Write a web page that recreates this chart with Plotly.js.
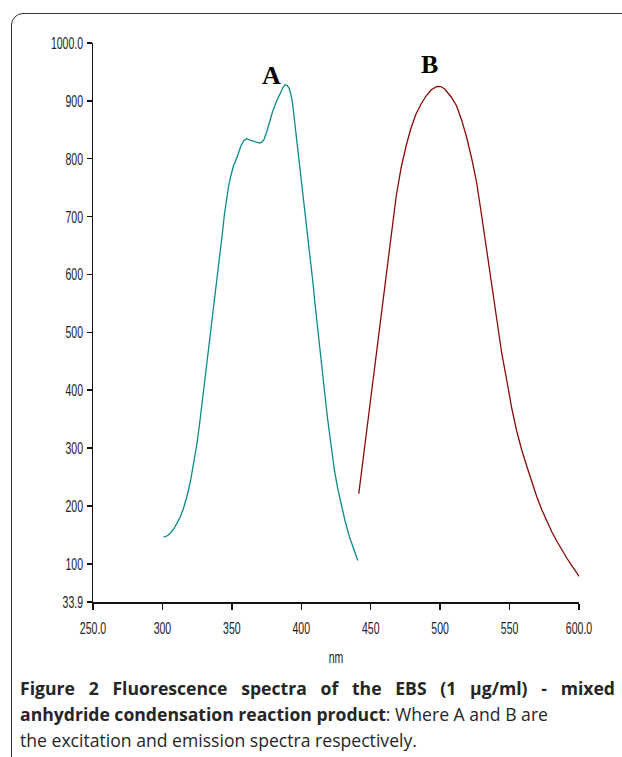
<!DOCTYPE html>
<html>
<head>
<meta charset="utf-8">
<script src="https://cdn.plot.ly/plotly-3.0.1.min.js"></script>
<style>
  html, body { margin: 0; padding: 0; background: #fff; }
  #wrap { position: relative; width: 622px; height: 757px; overflow: hidden; }
  #frame { position: absolute; left: 11px; top: 13px; width: 700px; height: 800px;
           border: 1.5px solid #333; border-radius: 12px; box-sizing: border-box; }
  #plot { position: absolute; left: 0; top: 0; width: 622px; height: 757px; }
  #caption { position: absolute; left: 20px; top: 675px; width: 595px;
             font-family: "Open Sans", sans-serif; font-size: 17.6px; line-height: 26px;
             color: #262626; white-space: nowrap; }
  #caption .l1 { text-align: justify; text-align-last: justify; width: 595px; white-space: normal; }
</style>
</head>
<body>
<div id="wrap">
  <div id="frame"></div>
  <div id="plot"></div>
  <div id="caption"><div class="l1"><b>Figure 2 Fluorescence spectra of the EBS (1 μg/ml) - mixed</b></div><div><b>anhydride condensation reaction product</b>: Where A and B are</div><div>the excitation and emission spectra respectively.</div></div>
</div>
<script>
// Excitation spectrum (A): wavelength (nm) and intensity
const wavelengthA = [300.8,303.5,305.7,308.2,310.5,312.9,315.3,317.6,320.1,322.3,324.5,326.6,328.8,331,333.2,335.3,337.5,339.7,341.8,343.3,344.7,346.2,347.6,349.1,351.2,353.9,356.3,358.5,360.6,363.5,365.9,367.9,370,371.5,373.1,375.1,376.8,379.1,381.6,383.8,385.2,386.9,388.3,389.9,391.2,392.4,393.7,394.6,395.3,396.8,398.4,399.9,401.3,402.7,404,405.5,406.9,408.4,409.8,411.2,412.9,414.1,415.4,416.7,417.8,419.2,420.9,422.3,423.8,426.1,428.6,431.5,434.6,437.6,440.7];
const intensityA = [146.1,148.4,152.7,160.5,170.3,181.2,196.8,215.8,241.7,271.1,302.2,338.5,381.7,424.9,468.1,511.3,554.5,597.8,641,673.8,704.9,730.8,751.6,768.9,787.9,803.4,820.7,831.1,834.5,831.9,829.9,827.6,827.1,828.5,832.8,846.6,861.7,879.5,896.2,908.8,916.3,923.5,927.9,926.5,922.2,912.3,896.2,877.7,855.8,827.6,798.2,768.9,740.7,711.8,683,651.3,618.5,585.7,551.1,518.3,483.7,456,428.4,399,374.8,345.4,314.3,286.7,262.5,231.4,204.9,174.3,147.2,125.1,105.7];
// Emission spectrum (B)
const wavelengthB = [441.4,446.7,450.3,453.9,457.5,461.1,464.7,468.3,471.9,475.5,479.1,482.7,486.4,490,493.6,497.8,500.5,503.3,508.1,511.8,515.4,519,522.6,526.2,529.8,533.4,537.1,540.7,544.3,547.9,551.5,555.1,558.7,562.4,566,569.6,573.2,576.8,580.4,584.1,587.7,591.3,594.9,598.5,600.9];
const intensityB = [221,321.2,390.4,461.2,532,602.9,670.3,734.3,784.4,822.4,853.5,877.7,895,908.8,919.2,924.9,924.7,920.4,906.3,891.6,867.4,838,801.7,760.2,703.2,642.7,582.2,520,464.7,418,369.6,329.9,297,268.5,241.7,215.8,193.3,173.5,155.3,138.9,123.3,109.5,96.5,84.4,75.3];

const xTickVals = [250,300,350,400,450,500,550,600];
const xTickText = ["250.0","300","350","400","450","500","550","600.0"];
const yTickVals = [33.9,100,200,300,400,500,600,700,800,900,1000];
const yTickText = ["33.9","100","200","300","400","500","600","700","800","900","1000.0"];
const seriesLabels = ["A","B"];
const labelPosX = [378.7, 492.2];
const labelPosY = [943, 962];

const tickFont = {family: '"Liberation Sans", Arial, sans-serif', size: 17, color: '#222'};

const traces = [
  {x: wavelengthA, y: intensityA, mode: 'lines', line: {color: '#0a8a8a', width: 1.3}, name: 'A'},
  {x: wavelengthB, y: intensityB, mode: 'lines', line: {color: '#8b0a0a', width: 1.3}, name: 'B'}
];

const layout = {
  width: 622, height: 757,
  margin: {l: 93, r: 43.3, t: 43.3, b: 155},
  paper_bgcolor: 'rgba(0,0,0,0)',
  plot_bgcolor: 'rgba(0,0,0,0)',
  showlegend: false,
  xaxis: {
    range: [250, 600], showgrid: false, zeroline: false,
    showline: true, linecolor: '#111', linewidth: 1.5,
    ticks: 'outside', ticklen: 6, tickwidth: 1.5, tickcolor: '#111',
    ticklabelstandoff: 4,
    tickvals: xTickVals, ticktext: xTickText, tickfont: tickFont,
    title: {text: 'nm', font: {family: tickFont.family, size: 17, color: '#222'}, standoff: 14}
  },
  yaxis: {
    range: [33.9, 1000], showgrid: false, zeroline: false,
    showline: true, linecolor: '#111', linewidth: 1.5,
    ticks: 'outside', ticklen: 5, tickwidth: 1.5, tickcolor: '#111',
    tickvals: yTickVals, ticktext: yTickText, tickfont: tickFont
  },
  annotations: seriesLabels.map((t, i) => ({
    x: labelPosX[i], y: labelPosY[i], xref: 'x', yref: 'y', text: '<b>' + t + '</b>',
    showarrow: false, font: {family: '"Liberation Serif", "Times New Roman", serif', size: 26, color: '#000'}
  }))
};

Plotly.newPlot('plot', traces, layout, {displayModeBar: false, staticPlot: true}).then(gd => {
  // condense axis text horizontally, like the narrow font of the original
  gd.querySelectorAll('.xtick text, .ytick text, .xtitle').forEach(el => {
    const w = el.getComputedTextLength();
    el.setAttribute('textLength', (w * 0.62).toFixed(1));
    el.setAttribute('lengthAdjust', 'spacingAndGlyphs');
  });
});
</script>
</body>
</html>
